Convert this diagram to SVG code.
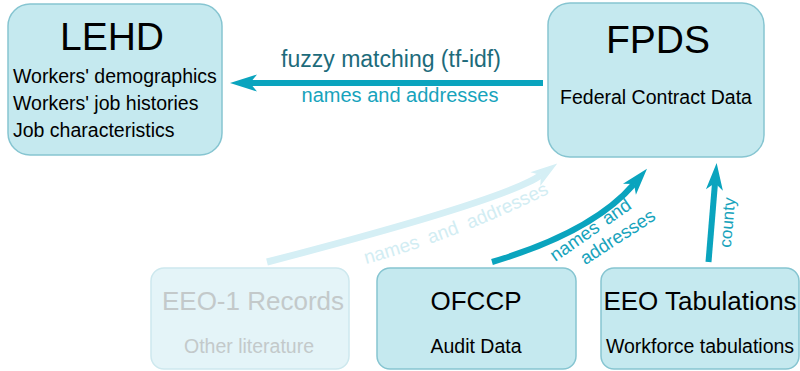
<svg xmlns="http://www.w3.org/2000/svg" width="800" height="371" viewBox="0 0 800 371">
<style>
  .box{fill:#c5e9ef;stroke:#86c5d1;stroke-width:1.5}
  .faded{fill:#e4f4f8;stroke:#cde8ee;stroke-width:1.5}
  text{font-family:"Liberation Sans",Arial,sans-serif}
  .big{font-size:39px;fill:#000;text-anchor:middle}
  .t{font-size:26px;fill:#000;text-anchor:middle}
  .s{font-size:19.5px;fill:#000}
  .sm{font-size:19.5px;fill:#000;text-anchor:middle}
  .g{fill:#c3c9ca}
  .lbl{fill:#17a3bc}
  .lblf{fill:#d2edf3}
  .conn{fill:none;stroke:#0aa4be;stroke-width:6}
  .connf{fill:none;stroke:#d5eff5;stroke-width:7}
</style>
<defs>
  <marker id="ah" markerUnits="userSpaceOnUse" markerWidth="40" markerHeight="30" refX="10" refY="15" orient="auto" viewBox="0 0 40 30">
    <path d="M30,15 L3,6.5 L10,15 L3,23.5 Z" fill="#0aa4be"/>
  </marker>
  <marker id="ahf" markerUnits="userSpaceOnUse" markerWidth="40" markerHeight="30" refX="10" refY="15" orient="auto" viewBox="0 0 40 30">
    <path d="M30,15 L3,6.5 L10,15 L3,23.5 Z" fill="#d5eff5"/>
  </marker>
  <path id="fp" d="M366,264 Q460,238 556,190"/>
</defs>

<g id="connectors">
  <path id="c-fpds-lehd" class="conn" d="M543,83 L250,83" marker-end="url(#ah)"/>
  <path id="c-eeo1-fpds" class="connf" d="M267,262 Q506,200 541,175" marker-end="url(#ahf)"/>
  <path id="c-ofccp-fpds" class="conn" d="M492,262 Q593,232 634,184" marker-end="url(#ah)"/>
  <path id="c-eeotab-fpds" class="conn" d="M708.5,262 L715,183" marker-end="url(#ah)"/>
  <text x="391" y="67" text-anchor="middle" font-size="23" fill="#1d6b7b">fuzzy matching (tf-idf)</text>
  <text x="400" y="102" text-anchor="middle" font-size="20" class="lbl">names and addresses</text>
  <text font-size="19" class="lblf" word-spacing="5"><textPath href="#fp">names and addresses</textPath></text>
  <text x="594" y="235" text-anchor="middle" font-size="18.5" class="lbl" word-spacing="3" transform="rotate(-35 594 235)">names and</text>
  <text x="621" y="242" text-anchor="middle" font-size="18.5" class="lbl" transform="rotate(-33 621 242)">addresses</text>
  <text x="733" y="223" text-anchor="middle" font-size="17" class="lbl" transform="rotate(-85 733 223)">county</text>
</g>

<g id="lehd">
  <rect class="box" x="8" y="4" width="214" height="151" rx="22"/>
  <text class="big" x="112" y="50">LEHD</text>
  <text class="s" x="13" y="83">Workers' demographics</text>
  <text class="s" x="13" y="110">Workers' job histories</text>
  <text class="s" x="13" y="137">Job characteristics</text>
</g>

<g id="fpds">
  <rect class="box" x="548" y="3" width="216" height="154" rx="22"/>
  <text class="big" x="658" y="53">FPDS</text>
  <text class="sm" x="656" y="104">Federal Contract Data</text>
</g>

<g id="eeo1">
  <rect class="faded" x="151" y="268" width="198" height="101" rx="13"/>
  <text class="t g" x="253" y="310">EEO-1 Records</text>
  <text class="sm g" x="249" y="353">Other literature</text>
</g>

<g id="ofccp">
  <rect class="box" x="377" y="268" width="199" height="101" rx="13"/>
  <text class="t" x="476" y="310">OFCCP</text>
  <text class="sm" x="476" y="353">Audit Data</text>
</g>

<g id="eeotab">
  <rect class="box" x="601" y="268" width="198" height="101" rx="13"/>
  <text class="t" x="700" y="310">EEO Tabulations</text>
  <text class="sm" x="700" y="353">Workforce tabulations</text>
</g>
</svg>
